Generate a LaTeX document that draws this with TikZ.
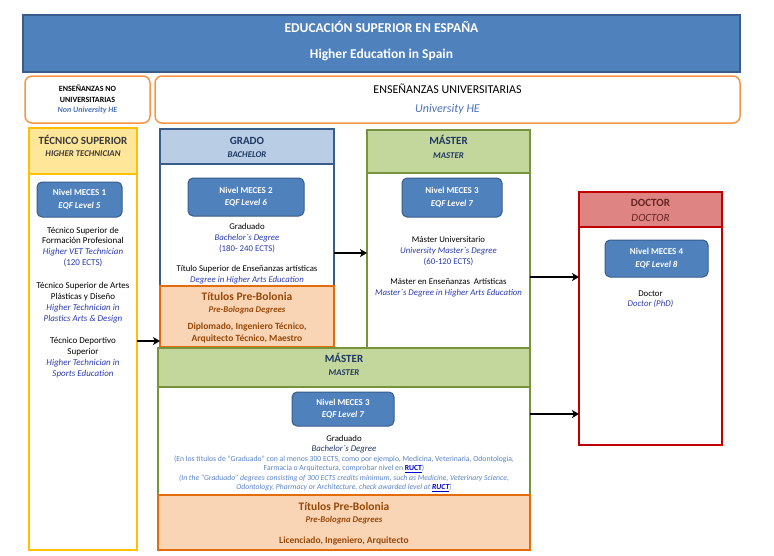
\documentclass[tikz,border=0pt]{standalone}
\usepackage{fontspec}
\setmainfont{Carlito}
\usetikzlibrary{arrows.meta}
\definecolor{bfill}{HTML}{4F81BD}
\definecolor{bborder}{HTML}{385D8A}
\definecolor{lorange}{HTML}{F79646}
\definecolor{ygold}{HTML}{FFC000}
\definecolor{yfill}{HTML}{FFE699}
\definecolor{gfill}{HTML}{B9CDE5}
\definecolor{mfill}{HTML}{C3D69B}
\definecolor{mborder}{HTML}{77933C}
\definecolor{pfill}{HTML}{F9D5B6}
\definecolor{pborder}{HTML}{E46C0A}
\definecolor{dfill}{HTML}{DE8583}
\definecolor{dborder}{HTML}{C00000}
\definecolor{navy}{HTML}{1F3864}
\definecolor{ptext}{HTML}{984807}
\definecolor{tblue}{HTML}{2B3BB0}
\definecolor{lblue}{HTML}{4A72BC}
\definecolor{sblue}{HTML}{5B84C6}
\definecolor{hgray}{HTML}{3A3A3A}
\definecolor{dkred}{HTML}{632523}
\definecolor{linkblue}{HTML}{0000CC}
\newcommand\F[1]{\fontsize{#1}{#1}\selectfont}
\newcounter{lc}
\newcommand\tl[4]{\stepcounter{lc}\node[txt,#3] (t\arabic{lc}) at (#1,#2) {#4};}
\begin{document}
\begin{tikzpicture}[x=1pt,y=-1pt,
  box/.style={anchor=north west, inner sep=0pt, outer sep=0pt},
  txt/.style={anchor=base, inner sep=0pt, outer sep=0pt, align=center},
  meces/.style={box, rounded corners=5pt, fill=bfill, draw=bborder, line width=1pt,
    text=white, align=center, font=\bfseries\fontsize{9}{12.5}\selectfont},
  hdrbox/.style={box, rounded corners=7pt, draw=lorange, line width=1.5pt},
  arr/.style={-{Stealth[length=7pt,width=8pt,inset=2pt]}, line width=1.8pt, black}
]
\fill[white] (0,0) rectangle (774,555);
\useasboundingbox (0,0) rectangle (774,555);

% banner and section headers
\node[box, draw=bborder, fill=bfill, line width=1.5pt, minimum width=717pt, minimum height=57pt] (banner) at (23,15) {};
\node[hdrbox, minimum width=125pt, minimum height=47pt] (nonuni) at (25,76) {};
\node[hdrbox, minimum width=585pt, minimum height=47pt] (uni) at (155,76) {};

% Tecnico superior column
\node[box, draw=ygold, line width=2pt, minimum width=108pt, minimum height=422pt] (tec) at (29,128) {};
\node[box, draw=ygold, fill=yfill, line width=2pt, minimum width=108pt, minimum height=46pt] (techead) at (29,128) {};

% Grado
\node[box, draw=bborder, line width=2pt, minimum width=174pt, minimum height=218pt] (grado) at (160,129) {};
\node[box, draw=bborder, fill=gfill, line width=2pt, minimum width=174pt, minimum height=35pt] (gradohead) at (160,129) {};
\node[box, draw=pborder, fill=pfill, line width=2pt, minimum width=174pt, minimum height=61pt] (prebol1) at (160,286) {};

% Master (top)
\node[box, draw=mborder, line width=2pt, minimum width=163pt, minimum height=218pt] (master1) at (367,130) {};
\node[box, draw=mborder, fill=mfill, line width=2pt, minimum width=163pt, minimum height=43pt] (master1head) at (367,130) {};

% Master (bottom)
\node[box, draw=mborder, line width=2pt, minimum width=372pt, minimum height=202pt] (master2) at (158,348) {};
\node[box, draw=mborder, fill=mfill, line width=2pt, minimum width=372pt, minimum height=39pt] (master2head) at (158,348) {};
\node[box, draw=pborder, fill=pfill, line width=2pt, minimum width=372pt, minimum height=55pt] (prebol2) at (158,495) {};

% Doctor
\node[box, draw=dborder, line width=2pt, minimum width=143pt, minimum height=253pt] (doctor) at (579,192) {};
\node[box, draw=dborder, fill=dfill, line width=2pt, minimum width=143pt, minimum height=35pt] (doctorhead) at (579,192) {};

% MECES boxes
\node[meces, minimum width=85pt, minimum height=35pt] (m1) at (37,182) {Nivel MECES 1\\\itshape EQF Level 5};
\node[meces, minimum width=116pt, minimum height=38pt] (m2) at (188,178) {Nivel MECES 2\\\itshape EQF Level 6};
\node[meces, minimum width=100pt, minimum height=39pt] (m3a) at (402,178) {Nivel MECES 3\\\itshape EQF Level 7};
\node[meces, minimum width=103pt, minimum height=37pt] (m4) at (605,240) {Nivel MECES 4\\\itshape EQF Level 8};
\node[meces, minimum width=102pt, minimum height=34pt] (m3b) at (292,392) {Nivel MECES 3\\\itshape EQF Level 7};

% banner texts
\tl{381.5}{32.5}{font=\bfseries\F{13.5},text=white}{EDUCACIÓN SUPERIOR EN ESPAÑA}
\tl{381.5}{58.5}{font=\bfseries\F{13.5},text=white}{Higher Education in Spain}
\tl{87.5}{91}{font=\bfseries\F{8}}{ENSEÑANZAS NO}
\tl{87.5}{102}{font=\bfseries\F{8}}{UNIVERSITARIAS}
\tl{87.5}{112}{font=\bfseries\itshape\F{8},text=lblue}{Non University HE}
\tl{447.5}{93}{font=\F{12}}{ENSEÑANZAS UNIVERSITARIAS}
\tl{447.5}{112}{font=\itshape\F{12},text=lblue}{University HE}

% tecnico texts
\tl{83}{144.5}{font=\bfseries\F{11},text=hgray}{TÉCNICO SUPERIOR}
\tl{83}{156}{font=\bfseries\itshape\F{8.8},text=hgray}{HIGHER TECHNICIAN}
\tl{83}{233}{font=\F{9}}{Técnico Superior de}
\tl{83}{243.5}{font=\F{9}}{Formación Profesional}
\tl{83}{254.5}{font=\itshape\F{9},text=tblue}{Higher VET Technician}
\tl{83}{265.5}{font=\F{9},text=tblue}{(120 ECTS)}
\tl{83}{288}{font=\F{9}}{Técnico Superior de Artes}
\tl{83}{299}{font=\F{9}}{Plásticas y Diseño}
\tl{83}{310.5}{font=\itshape\F{9},text=tblue}{Higher Technician in}
\tl{83}{321.5}{font=\itshape\F{9},text=tblue}{Plastics Arts \& Design}
\tl{83}{343.5}{font=\F{9}}{Técnico Deportivo}
\tl{83}{354.5}{font=\F{9}}{Superior}
\tl{83}{365.5}{font=\itshape\F{9},text=tblue}{Higher Technician in}
\tl{83}{376.5}{font=\itshape\F{9},text=tblue}{Sports Education}

% grado texts
\tl{247}{144.5}{font=\bfseries\F{11},text=navy}{GRADO}
\tl{247}{157}{font=\bfseries\itshape\F{8.8},text=navy}{BACHELOR}
\tl{247}{229.5}{font=\F{8.8}}{Graduado}
\tl{247}{240.5}{font=\itshape\F{8.8},text=tblue}{Bachelor´s Degree}
\tl{247}{251}{font=\F{8.8},text=tblue}{(180- 240 ECTS)}
\tl{247}{271.5}{font=\F{8.8}}{Título Superior de Enseñanzas artísticas}
\tl{247}{282}{font=\itshape\F{8.8},text=tblue}{Degree in Higher Arts Education}
\tl{247}{300.5}{font=\bfseries\F{11.5},text=ptext}{Títulos Pre-Bolonia}
\tl{247}{312}{font=\bfseries\itshape\F{8.8},text=ptext}{Pre-Bologna Degrees}
\tl{247}{329.5}{font=\bfseries\F{9.5},text=ptext}{Diplomado, Ingeniero Técnico,}
\tl{247}{341.5}{font=\bfseries\F{9.5},text=ptext}{Arquitecto Técnico, Maestro}

% master top texts
\tl{448.5}{144.5}{font=\bfseries\F{11},text=navy}{MÁSTER}
\tl{448.5}{158}{font=\bfseries\itshape\F{8.8},text=navy}{MASTER}
\tl{448.5}{242}{font=\F{8.8}}{Máster Universitario}
\tl{448.5}{253}{font=\itshape\F{8.8},text=tblue}{University Master´s Degree}
\tl{448.5}{264}{font=\F{8.8},text=tblue}{(60-120 ECTS)}
\tl{448.5}{284}{font=\F{8.8}}{Máster en Enseñanzas \ Artísticas}
\tl{448.5}{295}{font=\itshape\F{8.8},text=tblue}{Master´s Degree in Higher Arts Education}

% doctor texts
\tl{650.5}{206.5}{font=\bfseries\F{11},text=dkred}{DOCTOR}
\tl{650.5}{221.5}{font=\itshape\F{11},text=dkred}{DOCTOR}
\tl{650.5}{296}{font=\F{8.8}}{Doctor}
\tl{650.5}{306}{font=\itshape\F{8.8},text=tblue}{Doctor (PhD)}

% master bottom texts
\tl{344}{362.5}{font=\bfseries\F{11},text=navy}{MÁSTER}
\tl{344}{375}{font=\bfseries\itshape\F{8.8},text=navy}{MASTER}
\tl{344}{441}{font=\F{8.8}}{Graduado}
\tl{344}{451}{font=\itshape\F{8.8},text=navy}{Bachelor´s Degree}
\tl{344}{461.5}{font=\F{7.7},text=sblue}{(En los títulos de “Graduado” con al menos 300 ECTS, como por ejemplo, Medicina, Veterinaria, Odontología,}
\tl{344}{470.5}{font=\F{7.7},text=sblue}{Farmacia o Arquitectura, comprobar nivel en {\bfseries\color{linkblue}\underline{RUCT}})}
\tl{344}{480}{font=\itshape\F{7.7},text=sblue}{(In the “Graduado” degrees consisting of 300 ECTS credits minimum, such as Medicine, Veterinary Science,}
\tl{344}{489.5}{font=\itshape\F{7.7},text=sblue}{Odontology, Pharmacy or Architecture, check awarded level at {\bfseries\color{linkblue}\underline{RUCT}})}
\tl{344}{510.5}{font=\bfseries\F{11.5},text=ptext}{Títulos Pre-Bolonia}
\tl{344}{522}{font=\bfseries\itshape\F{8.8},text=ptext}{Pre-Bologna Degrees}
\tl{344}{543}{font=\bfseries\F{9.5},text=ptext}{Licenciado, Ingeniero, Arquitecto}

% arrows
\coordinate (ya) at (0,341);
\coordinate (yb) at (0,253);
\coordinate (yc) at (0,277);
\coordinate (yd) at (0,414);
\draw[arr] (tec.east |- ya) -- (prebol1.west |- ya);
\draw[arr] (grado.east |- yb) -- (master1.west |- yb);
\draw[arr] (master1.east |- yc) -- (doctor.west |- yc);
\draw[arr] (master2.east |- yd) -- (doctor.west |- yd);
\end{tikzpicture}
\end{document}
